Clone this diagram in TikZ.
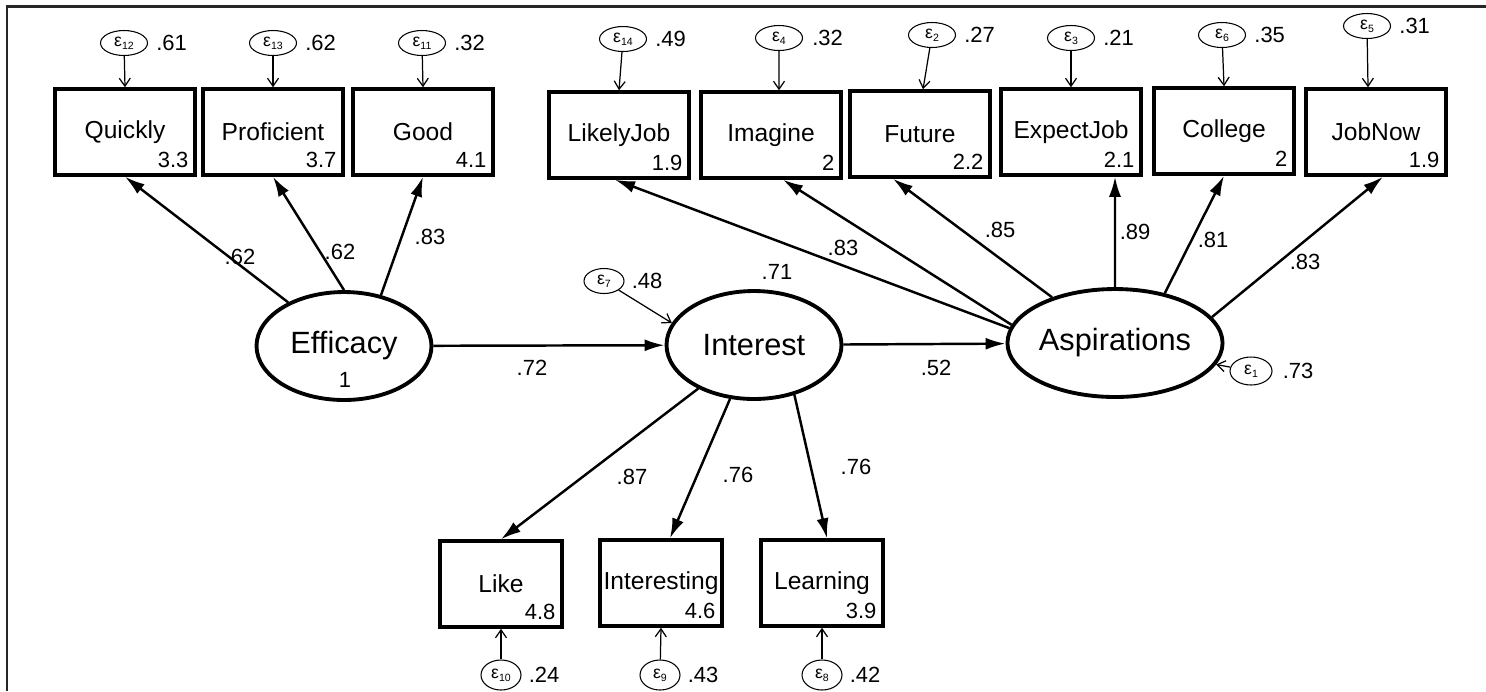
\documentclass[tikz,border=0pt]{standalone}
\usepackage{fontspec}
\setmainfont{Liberation Sans}
\usetikzlibrary{shapes.geometric,arrows.meta,positioning}

\newcommand\errlab[1]{ε\raisebox{-0.3ex}{\fontsize{6}{7}\selectfont#1}}

\tikzset{
  obs/.style={draw,line width=2pt,minimum width=2.8cm,minimum height=1.72cm,
    inner sep=0pt,font=\fontsize{14}{16}\selectfont},
  lat/.style={draw,ellipse,line width=2.2pt,minimum width=3.5cm,minimum height=2.16cm,
    inner sep=0pt,font=\fontsize{17.5}{20}\selectfont},
  err/.style={draw,ellipse,line width=0.6pt,minimum width=0.94cm,minimum height=0.5cm,
    inner sep=0pt,font=\fontsize{10}{11}\selectfont},
  icpt/.style={inner sep=0pt,anchor=south east,font=\fontsize{12.5}{14}\selectfont},
  coef/.style={inner sep=0pt,font=\fontsize{12.5}{14}\selectfont},
  load/.style={-{Latex[length=0.4cm,width=0.24cm]},line width=1.4pt},
  erra/.style={-{Straight Barb[length=0.16cm,width=0.22cm]},line width=0.7pt},
}

\begin{document}
\begin{tikzpicture}[x=0.02cm,y=-0.02cm]
  \useasboundingbox (0,0) rectangle (1486,691);
  \draw[line width=1.7pt,black!85] (7,691) -- (7,6) -- (1486,6);

  % latent variables
  \node[lat] (Eff) at (344,346) {Efficacy};
  \node[lat] (Int) at (754,345) {Interest};
  \node[lat] (Asp) at (1115,343) {Aspirations};
  \node[inner sep=0pt,font=\fontsize{12.5}{14}\selectfont] (Eff-i) at (345,380) {1};

  % efficacy items
  \node[obs] (Quickly) at (125,132) {Quickly};
  \node[obs] (Proficient) at (273,132) {Proficient};
  \node[obs] (Good) at (423,132) {Good};
  \node[icpt] (Quickly-i) at ([shift={(-0.16cm,0.18cm)}]Quickly.south east) {3.3};
  \node[icpt] (Proficient-i) at ([shift={(-0.16cm,0.18cm)}]Proficient.south east) {3.7};
  \node[icpt] (Good-i) at ([shift={(-0.16cm,0.18cm)}]Good.south east) {4.1};

  % aspiration items
  \node[obs] (LikelyJob) at (619,135) {LikelyJob};
  \node[obs] (Imagine) at (771,135) {Imagine};
  \node[obs] (Future) at (920,134) {Future};
  \node[obs] (ExpectJob) at (1071,132) {ExpectJob};
  \node[obs] (College) at (1224,131) {College};
  \node[obs] (JobNow) at (1376,132) {JobNow};
  \node[icpt] (LikelyJob-i) at ([shift={(-0.16cm,0.18cm)}]LikelyJob.south east) {1.9};
  \node[icpt] (Imagine-i) at ([shift={(-0.16cm,0.18cm)}]Imagine.south east) {2};
  \node[icpt] (Future-i) at ([shift={(-0.16cm,0.18cm)}]Future.south east) {2.2};
  \node[icpt] (ExpectJob-i) at ([shift={(-0.16cm,0.18cm)}]ExpectJob.south east) {2.1};
  \node[icpt] (College-i) at ([shift={(-0.16cm,0.18cm)}]College.south east) {2};
  \node[icpt] (JobNow-i) at ([shift={(-0.16cm,0.18cm)}]JobNow.south east) {1.9};

  % interest items
  \node[obs,minimum width=2.44cm] (Like) at (501,584) {Like};
  \node[obs,minimum width=2.44cm] (Interesting) at (661,583) {Interesting};
  \node[obs,minimum width=2.44cm] (Learning) at (822,583) {Learning};
  \node[icpt] (Like-i) at ([shift={(-0.16cm,0.18cm)}]Like.south east) {4.8};
  \node[icpt] (Interesting-i) at ([shift={(-0.16cm,0.18cm)}]Interesting.south east) {4.6};
  \node[icpt] (Learning-i) at ([shift={(-0.16cm,0.18cm)}]Learning.south east) {3.9};

  % error terms
  \node[err] (e12) at (124,43) {\errlab{12}};
  \node[err] (e13) at (273,43) {\errlab{13}};
  \node[err] (e11) at (422,43) {\errlab{11}};
  \node[err] (e14) at (623,39) {\errlab{14}};
  \node[err] (e4) at (779,38) {\errlab{4}};
  \node[err] (e2) at (932,35) {\errlab{2}};
  \node[err] (e3) at (1071,38) {\errlab{3}};
  \node[err] (e6) at (1222,35) {\errlab{6}};
  \node[err] (e5) at (1367,26) {\errlab{5}};
  \node[err,minimum width=0.8cm] (e7) at (604,281) {\errlab{7}};
  \node[err,minimum width=0.84cm,minimum height=0.56cm] (e1) at (1251,371) {\errlab{1}};
  \node[err,minimum width=0.8cm,minimum height=0.6cm] (e10) at (501,675) {\errlab{10}};
  \node[err,minimum width=0.8cm,minimum height=0.6cm] (e9) at (660,675) {\errlab{9}};
  \node[err,minimum width=0.8cm,minimum height=0.6cm] (e8) at (822,675) {\errlab{8}};

  \node[coef,right=0.16cm of e12] (e12v) {.61};
  \node[coef,right=0.16cm of e13] (e13v) {.62};
  \node[coef,right=0.16cm of e11] (e11v) {.32};
  \node[coef,right=0.16cm of e14] (e14v) {.49};
  \node[coef,right=0.18cm of e4] (e4v) {.32};
  \node[coef,right=0.16cm of e2] (e2v) {.27};
  \node[coef,right=0.16cm of e3] (e3v) {.21};
  \node[coef,right=0.16cm of e6] (e6v) {.35};
  \node[coef,right=0.16cm of e5] (e5v) {.31};
  \node[coef,right=0.14cm of e7] (e7v) {.48};
  \node[coef,right=0.2cm of e1] (e1v) {.73};
  \node[coef,right=0.14cm of e10] (e10v) {.24};
  \node[coef,right=0.14cm of e9] (e9v) {.43};
  \node[coef,right=0.14cm of e8] (e8v) {.42};

  % error arrows
  \draw[erra] (e12) -- (Quickly.north);
  \draw[erra] (e13) -- (Proficient.north);
  \draw[erra] (e11) -- (Good.north);
  \draw[erra] (e14) -- (LikelyJob.north);
  \draw[erra] (e4) -- ([xshift=0.16cm]Imagine.north);
  \draw[erra] (e2) -- ([xshift=0.06cm]Future.north);
  \draw[erra] (e3) -- (ExpectJob.north);
  \draw[erra] (e6) -- (College.north);
  \draw[erra] (e5) -- ([xshift=-0.16cm]JobNow.north);
  \draw[erra] (e7) -- (Int.165);
  \draw[erra] (e1) -- (Asp.-12);
  \draw[erra] (e10) -- (Like.south);
  \draw[erra] (e9) -- (Interesting.south);
  \draw[erra] (e8) -- (Learning.south);

  % loadings and paths
  \draw[load] (Eff.142) -- (Quickly.south);
  \draw[load] (Eff.90) -- (Proficient.south);
  \draw[load] (Eff.54) -- (Good.south);
  \draw[load] (Eff) -- (Int);
  \draw[load] (Int) -- (Asp);
  \draw[load] (Int.218) -- (Like.north);
  \draw[load] (Int.246) -- ([xshift=0.18cm]Interesting.north);
  \draw[load] (Int.309) -- ([xshift=0.1cm]Learning.north);
  \draw[load] (Asp.172) -- ([xshift=-0.08cm]LikelyJob.south);
  \draw[load] (Asp.170) -- ([xshift=0.24cm]Imagine.south);
  \draw[load] (Asp.144) -- ([xshift=-0.54cm]Future.south);
  \draw[load] (Asp.90) -- ([xshift=0.88cm]ExpectJob.south);
  \draw[load] (Asp.45) -- (College.south);
  \draw[load] (Asp.15) -- ([xshift=0.14cm]JobNow.south);

  % coefficients
  \node[coef] (c1) at (240,257) {.62};
  \node[coef] (c2) at (340,252) {.62};
  \node[coef] (c3) at (430,237) {.83};
  \node[coef] (c4) at (532,368) {.72};
  \node[coef] (c5) at (936,368) {.52};
  \node[coef] (c6) at (777,272) {.71};
  \node[coef] (c7) at (843,248) {.83};
  \node[coef] (c8) at (1000,230) {.85};
  \node[coef] (c9) at (1135,232) {.89};
  \node[coef] (c10) at (1213,240) {.81};
  \node[coef] (c11) at (1305,262) {.83};
  \node[coef] (c12) at (632,477) {.87};
  \node[coef] (c13) at (738,475) {.76};
  \node[coef] (c14) at (856,467) {.76};
\end{tikzpicture}
\end{document}
